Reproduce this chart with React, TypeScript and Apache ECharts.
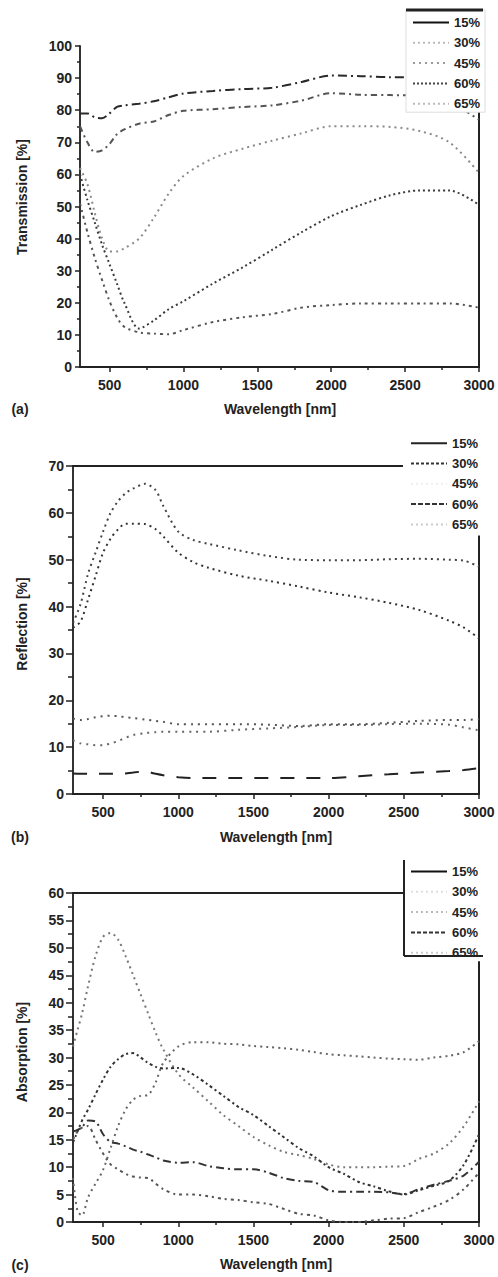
import React, { useEffect, useRef } from "react";
import * as echarts from "echarts";

const FONT = "'Liberation Sans', Arial, sans-serif";
const NAMES = ["15%", "30%", "45%", "60%", "65%"];

// Panel (a) Transmission
const WL_A = [300, 350, 400, 450, 500, 550, 600, 700, 800, 900, 1000, 1200, 1400, 1600, 1800, 2000, 2200, 2400, 2600, 2800, 3000];
const T15 = [79, 79, 77.8, 77.5, 79, 81, 81.5, 82, 82.8, 84, 85.2, 86, 86.6, 87, 88.8, 90.8, 90.6, 90.3, 90.3, 88, 80];
const T30 = [75, 70, 67, 67.5, 69.5, 72.5, 74, 75.8, 76.5, 78.5, 79.8, 80.3, 81, 81.5, 83, 85.3, 84.8, 84.7, 84.5, 82.5, 77];
const T45 = [62, 57, 48, 40, 36, 36, 37, 40, 46.5, 54, 59.5, 65, 68, 70.5, 72.8, 75, 75, 74.8, 73.5, 70, 60.5];
const T60 = [60, 52, 45, 38, 32, 26, 20, 12, 14.5, 18, 20.5, 26, 31, 36.5, 42, 47, 50.5, 53.5, 55, 55, 50.5];
const T65 = [51, 42, 34, 27, 20.5, 15.5, 12.5, 10.8, 10.4, 10.2, 11.5, 14, 15.5, 16.5, 18.5, 19.3, 19.8, 19.8, 19.8, 19.8, 18.5];

// Panel (b) Reflection
const WL_B = [300, 350, 400, 450, 500, 550, 600, 650, 700, 780, 850, 900, 1000, 1100, 1200, 1400, 1600, 1800, 2000, 2200, 2400, 2600, 2800, 2900, 3000];
const R15 = [4.4, 4.3, 4.3, 4.3, 4.3, 4.3, 4.3, 4.4, 4.6, 4.8, 4.3, 4, 3.6, 3.4, 3.4, 3.4, 3.4, 3.4, 3.4, 3.8, 4.2, 4.6, 4.9, 5.1, 5.5];
const R30 = [11.5, 10.8, 10.6, 10.4, 10.4, 10.8, 11.3, 12, 12.6, 13, 13.2, 13.3, 13.3, 13.3, 13.3, 13.7, 14, 14.3, 14.7, 14.7, 14.9, 15, 14.8, 14.2, 13.6];
const R45 = [16.1, 15.8, 16, 16.4, 16.6, 16.7, 16.6, 16.4, 16.2, 15.9, 15.6, 15.4, 14.9, 14.9, 14.9, 14.9, 14.8, 14.5, 14.9, 14.9, 15.2, 15.6, 15.8, 15.8, 16];
const R60 = [35.5, 36.8, 41.5, 46.5, 51.5, 54.5, 56.5, 57.7, 57.7, 57.6, 56.5, 55, 51.5, 49.5, 48.3, 46.6, 45.5, 44.3, 43, 42, 40.8, 39.3, 37, 35.5, 33.2];
const R65 = [36.5, 40.5, 47, 51.5, 56, 60, 62.5, 64.2, 65.2, 66.2, 64.8, 61.5, 56, 54.2, 53.4, 52, 50.8, 50, 49.9, 49.9, 50.1, 50.2, 50, 49.8, 48.5];

// Panel (c) Absorption
const WL_C = [300, 330, 360, 400, 450, 500, 550, 600, 650, 700, 750, 800, 850, 900, 1000, 1100, 1200, 1300, 1400, 1500, 1600, 1700, 1800, 1900, 2000, 2100, 2200, 2300, 2400, 2500, 2600, 2700, 2800, 2900, 3000];
const A15 = [16.5, 16.8, 17.3, 18.5, 18.3, 16, 14.6, 14.3, 13.8, 13.2, 12.8, 12.3, 11.8, 11.2, 10.8, 10.9, 10.2, 9.8, 9.6, 9.6, 9, 8, 7.5, 7.3, 5.8, 5.5, 5.5, 5.5, 5.4, 5.1, 6, 6.8, 7.5, 8.5, 11];
const A30 = [15, 16.5, 17.2, 17.5, 15, 12.5, 10.5, 9.6, 8.8, 8.3, 8.1, 8, 7, 6, 5, 5, 4.7, 4.2, 4, 3.6, 3.3, 2.4, 1.5, 1.2, 0.3, 0, 0, 0.3, 0.6, 0.7, 1.8, 2.8, 4, 6, 9];
const A45 = [32, 35, 38, 43, 48.5, 52, 52.7, 51.5, 48.5, 45, 41.5, 38, 34.5, 31.5, 27, 24.5, 22, 19.5, 17.5, 15.5, 14, 12.8, 12.2, 11.5, 10.5, 10, 10, 10, 10.1, 10.2, 11.5, 12.5, 14.3, 17.5, 22];
const A60 = [14.5, 16.5, 18.5, 20.5, 23.3, 26, 28.3, 29.7, 30.6, 30.8, 30, 29, 28.3, 28, 28.1, 26.9, 25, 23, 21, 19.5, 17.5, 15.5, 13.5, 12, 10, 8.8, 7.3, 6.5, 5.6, 5, 5.8, 6.6, 7.5, 10.5, 16];
const A65 = [8, 2, 1.2, 4.5, 7, 9.5, 13.5, 17.5, 20.5, 22.3, 23, 23.2, 25.5, 29, 32, 32.8, 32.8, 32.5, 32.4, 32.1, 31.9, 31.7, 31.4, 31, 30.6, 30.4, 30.2, 30, 29.8, 29.7, 29.6, 30, 30.3, 31, 33];

const X_MAJOR = [500, 1000, 1500, 2000, 2500, 3000];
const X_MINOR = [750, 1250, 1750, 2250, 2750];

const PANELS = [
  { wl: WL_A, data: [T15, T30, T45, T60, T65], yMax: 100, yInt: 10 },
  { wl: WL_B, data: [R15, R30, R45, R60, R65], yMax: 70, yInt: 10 },
  { wl: WL_C, data: [A15, A30, A45, A60, A65], yMax: 60, yInt: 5 },
];

const GRIDS = [
  { left: 80, top: 46, width: 399, height: 321 },
  { left: 73, top: 466, width: 406, height: 328 },
  { left: 73, top: 893, width: 406, height: 329 },
];

const SERIES_STYLES = [
  [
    { color: "#2a2a2a", type: [9, 4, 2, 4] },
    { color: "#555", type: [6, 4, 2, 4] },
    { color: "#8a8a8a", type: [2, 4] },
    { color: "#3a3a3a", type: [2, 3] },
    { color: "#555", type: [3, 4, 2, 4] },
  ],
  [
    { color: "#222", type: [14, 12] },
    { color: "#666", type: [2, 5] },
    { color: "#555", type: [2, 5] },
    { color: "#333", type: [2, 4] },
    { color: "#444", type: [2, 4] },
  ],
  [
    { color: "#333", type: [8, 4, 2, 4] },
    { color: "#555", type: [3, 4, 2, 4] },
    { color: "#777", type: [2, 4] },
    { color: "#333", type: [3, 3, 2, 3] },
    { color: "#666", type: [2, 4] },
  ],
];

const LEGEND_STYLES = [
  [
    { color: "#111", type: "solid" },
    { color: "#bbb", type: [2, 3] },
    { color: "#999", type: [2, 4] },
    { color: "#444", type: [2, 2] },
    { color: "#bbb", type: [2, 3] },
  ],
  [
    { color: "#222", type: "solid" },
    { color: "#333", type: [3, 2] },
    { color: "#eee", type: [2, 3] },
    { color: "#333", type: [5, 2] },
    { color: "#ccc", type: [2, 3] },
  ],
  [
    { color: "#111", type: "solid" },
    { color: "#ddd", type: [2, 3] },
    { color: "#bbb", type: [2, 3] },
    { color: "#333", type: [4, 2] },
    { color: "#ccc", type: [2, 3] },
  ],
];

const LEGEND_POS = [
  { left: 406, top: 10, padding: [6, 5, 2, 6] },
  { left: 403, top: 430, padding: [6.7, 5, 4.5, 7] },
  { left: 404, top: 860, padding: [5, 5, 2, 6] },
];

function buildOption() {
  const xAxis: any[] = [];
  const yAxis: any[] = [];
  const series: any[] = [];
  const legend: any[] = [];
  const labelStyle = { fontFamily: FONT, fontSize: 14, fontWeight: "bold", color: "#222" };

  PANELS.forEach((p, i) => {
    const tickLen = i === 0 ? 5 : 7;
    xAxis.push({
      gridIndex: i, type: "value", min: 300, max: 3000, position: "bottom",
      axisLine: { show: true, lineStyle: { color: "#222", width: 2 } },
      axisTick: { show: true, customValues: X_MAJOR, length: 5, lineStyle: { color: "#222", width: 1.5 } },
      axisLabel: { show: true, customValues: X_MAJOR, margin: 11, formatter: (v: number) => String(v), ...labelStyle },
      splitLine: { show: false },
    });
    xAxis.push({
      gridIndex: i, type: "value", min: 300, max: 3000, position: "bottom",
      axisLine: { show: false },
      axisTick: { show: true, customValues: X_MINOR, length: 3, lineStyle: { color: "#222", width: 1.5 } },
      axisLabel: { show: false },
      splitLine: { show: false },
    });
    xAxis.push({
      gridIndex: i, type: "value", min: 300, max: 3000, position: "top",
      axisLine: { show: i > 0, lineStyle: { color: "#222", width: 2 } },
      axisTick: { show: false }, axisLabel: { show: false }, splitLine: { show: false },
    });
    yAxis.push({
      gridIndex: i, type: "value", min: 0, max: p.yMax, interval: p.yInt, position: "left",
      axisLine: { show: true, lineStyle: { color: "#333", width: 2 } },
      axisTick: { show: true, length: tickLen, lineStyle: { color: "#222", width: 1.5 } },
      minorTick: { show: true, splitNumber: 2, length: tickLen - 2, lineStyle: { color: "#222", width: 1.5 } },
      axisLabel: { margin: i === 0 ? 8 : 9, formatter: (v: number) => String(v), ...labelStyle },
      splitLine: { show: false },
    });
    yAxis.push({
      gridIndex: i, type: "value", min: 0, max: p.yMax, interval: p.yInt, position: "right",
      axisLine: { show: true, lineStyle: { color: "#222", width: 2 } },
      axisTick: { show: false }, axisLabel: { show: false }, splitLine: { show: false },
    });
    NAMES.forEach((name, k) => {
      const st = SERIES_STYLES[i][k];
      series.push({
        type: "line", name, xAxisIndex: i * 3, yAxisIndex: i * 2,
        data: p.wl.map((x, j) => [x, p.data[k][j]]),
        symbol: "none", smooth: 0.3, silent: true,
        lineStyle: { color: st.color, type: st.type, width: 2 },
        itemStyle: { color: st.color },
      });
    });
    const lp = LEGEND_POS[i];
    legend.push({
      orient: "vertical", left: lp.left, top: lp.top, padding: lp.padding,
      itemWidth: 36, itemHeight: 12, itemGap: 7.3, selectedMode: false,
      backgroundColor: "#fff",
      borderColor: i === 0 ? "#ddd" : "transparent", borderWidth: i === 0 ? 1 : 0,
      textStyle: { fontFamily: FONT, fontSize: 13, fontWeight: "bold", color: "#222" },
      data: NAMES.map((name, k) => ({
        name,
        lineStyle: { color: LEGEND_STYLES[i][k].color, type: LEGEND_STYLES[i][k].type, width: 2, opacity: 1 },
        itemStyle: { color: "rgba(0,0,0,0)", borderColor: "rgba(0,0,0,0)", borderWidth: 0, opacity: 0 },
      })),
      z: 10,
    });
  });

  const txt = (text: string, x: number, y: number, rot = 0) => ({
    type: "text", x, y, rotation: rot, z: 100,
    style: { text, fill: "#222", font: `bold 14px ${FONT}`, textAlign: "center", textVerticalAlign: "middle" },
  });
  const ln = (x1: number, y1: number, x2: number, y2: number, w: number) => ({
    type: "line", z: 100, shape: { x1, y1, x2, y2 }, style: { stroke: "#222", lineWidth: w },
  });

  const graphic = [
    txt("Transmission [%]", 22, 197, Math.PI / 2),
    txt("Reflection [%]", 22, 624, Math.PI / 2),
    txt("Absorption [%]", 22, 1052, Math.PI / 2),
    txt("Wavelength [nm]", 280, 409),
    txt("Wavelength [nm]", 276, 837),
    txt("Wavelength [nm]", 276, 1264),
    txt("(a)", 20, 409),
    txt("(b)", 20, 837),
    txt("(c)", 20, 1265),
    ln(406, 10, 483, 10, 3),
    ln(404, 860, 404, 956, 2),
    ln(404, 956, 483, 956, 2),
  ];

  return {
    animation: false,
    backgroundColor: "#fff",
    grid: GRIDS,
    xAxis,
    yAxis,
    legend,
    series,
    graphic,
  };
}

export default function App() {
  const ref = useRef<HTMLDivElement>(null);
  useEffect(() => {
    if (!ref.current) return;
    const chart = echarts.init(ref.current, null, { renderer: "svg" });
    chart.setOption(buildOption() as any);
    return () => chart.dispose();
  }, []);
  return (
    <div
      ref={ref}
      style={{ position: "absolute", left: 0, top: 0, width: 498, height: 1277, background: "#fff" }}
    />
  );
}
